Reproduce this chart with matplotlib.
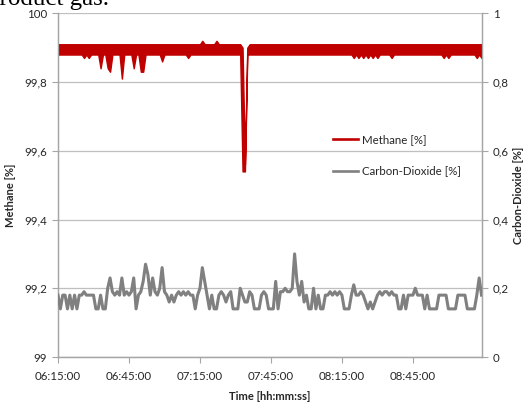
import matplotlib
matplotlib.use("Agg")
import matplotlib.pyplot as plt
from matplotlib.lines import Line2D

# ---------------- data ----------------
# minutes after 06:15:00, one entry per minute
minutes = list(range(180))

# methane reading oscillates quickly inside a band: per-minute upper / lower values
methane_high = [
    99.91, 99.91, 99.91, 99.91, 99.91, 99.91, 99.91, 99.91, 99.91, 99.91,
    99.91, 99.91, 99.91, 99.91, 99.91, 99.91, 99.91, 99.91, 99.91, 99.91,
    99.91, 99.91, 99.91, 99.91, 99.91, 99.91, 99.91, 99.91, 99.91, 99.91,
    99.91, 99.91, 99.91, 99.91, 99.91, 99.91, 99.91, 99.91, 99.91, 99.91,
    99.91, 99.91, 99.91, 99.91, 99.91, 99.91, 99.91, 99.91, 99.91, 99.91,
    99.91, 99.91, 99.91, 99.91, 99.91, 99.91, 99.91, 99.91, 99.91, 99.91,
    99.91, 99.92, 99.91, 99.91, 99.91, 99.91, 99.91, 99.92, 99.91, 99.91,
    99.91, 99.91, 99.91, 99.91, 99.91, 99.91, 99.91, 99.91, 99.90, 99.56,
    99.90, 99.91, 99.91, 99.91, 99.91, 99.91, 99.91, 99.91, 99.91, 99.91,
    99.91, 99.91, 99.91, 99.91, 99.91, 99.91, 99.91, 99.91, 99.91, 99.91,
    99.91, 99.91, 99.91, 99.91, 99.91, 99.91, 99.91, 99.91, 99.91, 99.91,
    99.91, 99.91, 99.91, 99.91, 99.91, 99.91, 99.91, 99.91, 99.91, 99.91,
    99.91, 99.91, 99.91, 99.91, 99.91, 99.91, 99.91, 99.91, 99.91, 99.91,
    99.91, 99.91, 99.91, 99.91, 99.91, 99.91, 99.91, 99.91, 99.91, 99.91,
    99.91, 99.91, 99.91, 99.91, 99.91, 99.91, 99.91, 99.91, 99.91, 99.91,
    99.91, 99.91, 99.91, 99.91, 99.91, 99.91, 99.91, 99.91, 99.91, 99.91,
    99.91, 99.91, 99.91, 99.91, 99.91, 99.91, 99.91, 99.91, 99.91, 99.91,
    99.91, 99.91, 99.91, 99.91, 99.91, 99.91, 99.91, 99.91, 99.91, 99.91,
]

methane_low = [
    99.88, 99.88, 99.88, 99.88, 99.88, 99.88, 99.88, 99.88, 99.88, 99.88,
    99.88, 99.87, 99.88, 99.87, 99.88, 99.88, 99.88, 99.88, 99.84, 99.88,
    99.88, 99.84, 99.83, 99.88, 99.88, 99.88, 99.88, 99.81, 99.88, 99.88,
    99.88, 99.88, 99.84, 99.88, 99.88, 99.83, 99.83, 99.88, 99.88, 99.88,
    99.88, 99.88, 99.88, 99.88, 99.86, 99.88, 99.88, 99.88, 99.88, 99.88,
    99.88, 99.88, 99.88, 99.88, 99.88, 99.87, 99.88, 99.88, 99.88, 99.88,
    99.88, 99.88, 99.88, 99.88, 99.88, 99.88, 99.88, 99.88, 99.88, 99.88,
    99.88, 99.88, 99.88, 99.88, 99.88, 99.88, 99.88, 99.88, 99.54, 99.54,
    99.88, 99.88, 99.88, 99.88, 99.88, 99.88, 99.88, 99.88, 99.88, 99.88,
    99.88, 99.88, 99.88, 99.88, 99.88, 99.88, 99.88, 99.88, 99.88, 99.88,
    99.88, 99.88, 99.88, 99.88, 99.88, 99.88, 99.88, 99.88, 99.88, 99.88,
    99.88, 99.88, 99.88, 99.88, 99.88, 99.88, 99.88, 99.88, 99.88, 99.88,
    99.88, 99.88, 99.88, 99.88, 99.88, 99.87, 99.88, 99.87, 99.88, 99.87,
    99.88, 99.87, 99.88, 99.87, 99.88, 99.87, 99.88, 99.88, 99.88, 99.88,
    99.88, 99.87, 99.88, 99.88, 99.88, 99.88, 99.88, 99.88, 99.88, 99.88,
    99.88, 99.88, 99.88, 99.88, 99.88, 99.88, 99.88, 99.88, 99.88, 99.88,
    99.88, 99.88, 99.88, 99.87, 99.88, 99.87, 99.88, 99.88, 99.88, 99.88,
    99.88, 99.88, 99.88, 99.88, 99.88, 99.88, 99.88, 99.87, 99.88, 99.87,
]

co2 = [
    0.18, 0.14, 0.18, 0.18, 0.14, 0.18, 0.14, 0.18, 0.14, 0.18,
    0.18, 0.19, 0.18, 0.18, 0.18, 0.18, 0.14, 0.14, 0.18, 0.14,
    0.14, 0.20, 0.23, 0.19, 0.18, 0.19, 0.18, 0.23, 0.18, 0.19,
    0.18, 0.19, 0.23, 0.14, 0.18, 0.19, 0.22, 0.27, 0.24, 0.18,
    0.23, 0.19, 0.18, 0.20, 0.26, 0.19, 0.18, 0.16, 0.18, 0.16,
    0.18, 0.19, 0.18, 0.19, 0.18, 0.19, 0.18, 0.18, 0.14, 0.18,
    0.20, 0.26, 0.22, 0.18, 0.14, 0.18, 0.14, 0.14, 0.18, 0.19,
    0.18, 0.16, 0.18, 0.19, 0.14, 0.14, 0.14, 0.20, 0.18, 0.16,
    0.16, 0.19, 0.18, 0.14, 0.14, 0.14, 0.18, 0.19, 0.18, 0.14,
    0.14, 0.14, 0.22, 0.14, 0.19, 0.19, 0.20, 0.19, 0.19, 0.20,
    0.30, 0.22, 0.18, 0.22, 0.16, 0.18, 0.14, 0.14, 0.20, 0.14,
    0.18, 0.14, 0.14, 0.18, 0.18, 0.19, 0.18, 0.19, 0.18, 0.19,
    0.18, 0.14, 0.14, 0.14, 0.18, 0.21, 0.18, 0.18, 0.19, 0.18,
    0.16, 0.14, 0.16, 0.14, 0.16, 0.18, 0.19, 0.18, 0.19, 0.19,
    0.18, 0.19, 0.18, 0.18, 0.14, 0.14, 0.18, 0.14, 0.18, 0.18,
    0.18, 0.20, 0.18, 0.18, 0.18, 0.14, 0.18, 0.14, 0.14, 0.14,
    0.14, 0.18, 0.18, 0.18, 0.18, 0.14, 0.14, 0.14, 0.14, 0.18,
    0.18, 0.18, 0.18, 0.14, 0.14, 0.14, 0.14, 0.18, 0.23, 0.18,
]

x_ticks = [0, 30, 60, 90, 120, 150]
x_tick_labels = ["06:15:00", "06:45:00", "07:15:00", "07:45:00", "08:15:00", "08:45:00"]
left_ticks = [99.0, 99.2, 99.4, 99.6, 99.8, 100.0]
left_tick_labels = ["99", "99,2", "99,4", "99,6", "99,8", "100"]
right_ticks = [0.0, 0.2, 0.4, 0.6, 0.8, 1.0]
right_tick_labels = ["0", "0,2", "0,4", "0,6", "0,8", "1"]

# ---------------- style ----------------
FONT = "Lato"
RED = "#C00000"
GREY = "#808080"
AXC = "#A6A6A6"
TXT = "#262626"

fig = plt.figure(figsize=(5.25, 4.05), dpi=100)
ax = fig.add_axes([58 / 525, 1 - 357 / 405, (482 - 58) / 525, (357 - 13.3) / 405])
ax2 = ax.twinx()

ax.fill_between(minutes, methane_low, methane_high, facecolor=RED, edgecolor=RED,
                lw=1.0, zorder=3)
ax2.plot(minutes, co2, color=GREY, lw=2.2, zorder=3)

ax.set_xlim(0, 179.2)
ax.set_ylim(99, 100)
ax2.set_ylim(0, 1)

ax.set_xticks(x_ticks)
ax.set_xticklabels(x_tick_labels, fontfamily=FONT, fontsize=8.3, color=TXT)
ax.set_yticks(left_ticks)
ax.set_yticklabels(left_tick_labels, fontfamily=FONT, fontsize=8.3, color=TXT)
ax2.set_yticks(right_ticks)
ax2.set_yticklabels(right_tick_labels, fontfamily=FONT, fontsize=8.3, color=TXT)

ax.yaxis.grid(True, color="#BFBFBF", lw=0.9)
ax.set_axisbelow(True)

for a in (ax, ax2):
    for s in ("left", "right", "bottom"):
        a.spines[s].set_color(AXC)
        a.spines[s].set_linewidth(0.9)
    a.spines["top"].set_visible(False)

ax.tick_params(axis="x", direction="out", length=4, color=AXC, pad=6)
ax.tick_params(axis="y", direction="out", length=4, color=AXC, pad=4)
ax2.tick_params(axis="y", direction="out", length=4, color=AXC, pad=4)

ax.set_xlabel("Time [hh:mm:ss]", fontfamily=FONT, fontsize=8, fontweight="bold", color=TXT)
ax.set_ylabel("Methane [%]", fontfamily=FONT, fontsize=8, fontweight="bold", color=TXT)
ax2.set_ylabel("Carbon-Dioxide [%]", fontfamily=FONT, fontsize=8, fontweight="bold",
               color=TXT, rotation=90)
ax.xaxis.set_label_coords((270 - 58) / 424, (357 - 397) / 343.7)
ax.yaxis.set_label_coords((11 - 58) / 424, 0.47)
ax2.yaxis.set_label_coords((518 - 58) / 424, 0.47)
ax.xaxis.label.set_va("center")
ax.yaxis.label.set_va("center")
ax2.yaxis.label.set_va("center")

handles = [Line2D([], [], color=RED, lw=1.9), Line2D([], [], color=GREY, lw=1.9)]
fig.legend(handles, ["Methane [%]", "Carbon-Dioxide [%]"], loc="center left",
           bbox_to_anchor=(333 / 525, 1 - 155.5 / 405), frameon=False,
           prop={"family": FONT, "size": 8.3}, handlelength=2.2, handletextpad=0.3,
           labelspacing=1.75, borderpad=0, borderaxespad=0, labelcolor=TXT)

# cut-off caption text at top of the image
fig.text(-13 / 525, 1 - 5 / 405, "product gas.", fontfamily="Liberation Serif",
         fontsize=18, color="black", va="baseline", ha="left")

fig.savefig("out.png", dpi=100)
